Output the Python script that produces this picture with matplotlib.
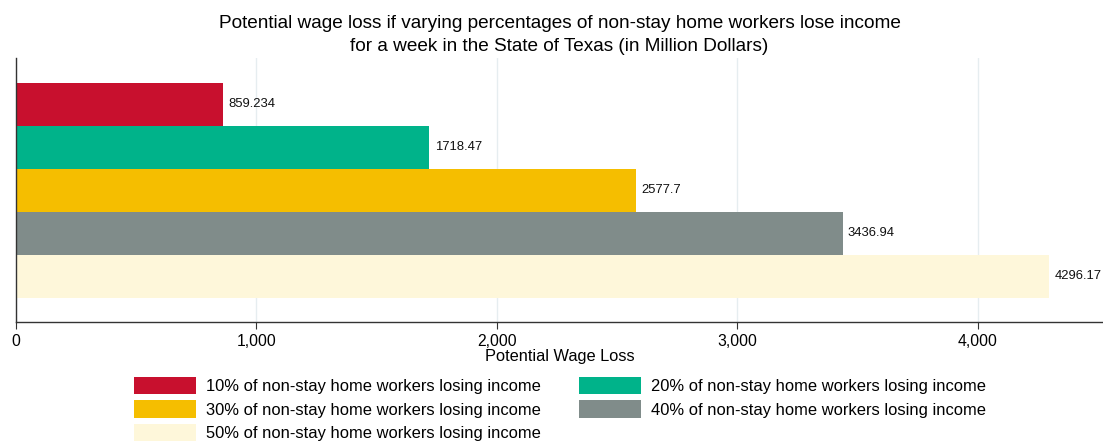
import matplotlib
matplotlib.use("Agg")
import matplotlib.pyplot as plt
from matplotlib.ticker import FuncFormatter

plt.rcParams['font.family'] = ['Liberation Sans', 'DejaVu Sans']

# data
labels = ["10% of non-stay home workers losing income",
          "20% of non-stay home workers losing income",
          "30% of non-stay home workers losing income",
          "40% of non-stay home workers losing income",
          "50% of non-stay home workers losing income"]
values = [859.234, 1718.47, 2577.7, 3436.94, 4296.17]
value_text = ["859.234", "1718.47", "2577.7", "3436.94", "4296.17"]
colors = ["#C8102E", "#00B38A", "#F5BE00", "#808C8A", "#FEF7DA"]
xticks = [0, 1000, 2000, 3000, 4000]

fig = plt.figure(figsize=(11.03, 4.41), dpi=100)
ax = fig.add_axes([16/1103, 119/441, 1087/1103, 264/441])

handles = []
for i, (v, c, lab) in enumerate(zip(values, colors, labels)):
    b = ax.barh(i, v, height=1.0, color=c, label=lab, zorder=2)
    handles.append(b)
    ax.text(v + 22, i, value_text[i], va="center", ha="left", fontsize=9.4, color="#111111")

ax.set_ylim(4.5 + 0.56, -0.5 - 0.58)
ax.set_xlim(0, 4520)
ax.set_xticks(xticks)
ax.xaxis.set_major_formatter(FuncFormatter(lambda x, p: f"{int(x):,}"))
ax.set_yticks([])
ax.grid(axis="x", color="#E6EDF0", linewidth=1, zorder=0)
ax.tick_params(axis="x", labelsize=11.3, length=5, color="#333333", pad=4)
for s in ["top", "right"]:
    ax.spines[s].set_visible(False)
for s in ["left", "bottom"]:
    ax.spines[s].set_color("#333333")
    ax.spines[s].set_linewidth(1.0)

ax.set_xlabel("Potential Wage Loss", fontsize=11.8, labelpad=0)
ax.set_title("Potential wage loss if varying percentages of non-stay home workers lose income\n"
             "for a week in the State of Texas (in Million Dollars)", fontsize=13.7, pad=5,
             linespacing=1.5)

# legend filled row by row: 10,20 / 30,40 / 50
order = [0, 2, 4, 1, 3]
fig.legend(handles=[handles[k] for k in order], loc="upper left",
           bbox_to_anchor=(134/1103, 1 - 377/441), borderpad=0, borderaxespad=0,
           ncol=2, frameon=False, fontsize=11.9, handlelength=3.75, handleheight=1.25,
           columnspacing=2.3, labelspacing=0.36, handletextpad=0.6)

fig.savefig("out.png", dpi=100)
